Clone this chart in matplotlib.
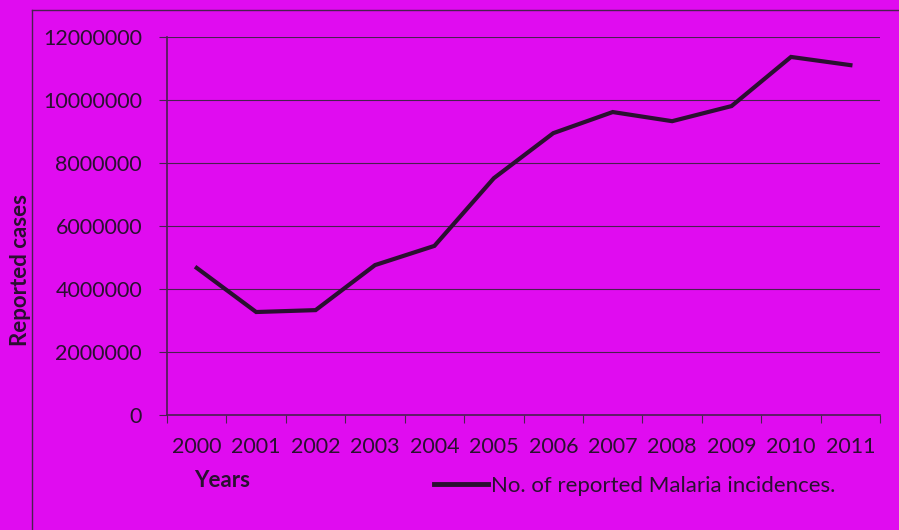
import numpy as np
import matplotlib
matplotlib.use("Agg")
import matplotlib.pyplot as plt
from matplotlib.lines import Line2D

# Data
years = ["2000", "2001", "2002", "2003", "2004", "2005",
         "2006", "2007", "2008", "2009", "2010", "2011"]
cases = [4670000, 3270000, 3330000, 4760000, 5370000, 7520000,
         8950000, 9620000, 9330000, 9810000, 11370000, 11110000]
yticks = [0, 2000000, 4000000, 6000000, 8000000, 10000000, 12000000]

bg = "#E00CF0"
ink = "#2a1030"

plt.rcParams["font.family"] = ["Lato", "DejaVu Sans"]

fig = plt.figure(figsize=(8.99, 5.30), dpi=100, facecolor=bg)
ax = fig.add_axes([0.1858, 0.217, 0.7932, 0.713], facecolor=bg)

x = np.arange(len(years))
ax.plot(x, cases, color=ink, lw=3, solid_joinstyle="miter",
        label="No. of reported Malaria incidences.")

ax.set_xlim(-0.5, len(years) - 0.5)
ax.set_ylim(0, 12000000)
ax.set_yticks(yticks)
ax.set_yticklabels([str(v) for v in yticks])
ax.yaxis.grid(True, color="#4a2050", lw=0.8)
ax.set_axisbelow(True)

# category ticks at boundaries, labels centered
ax.set_xticks(np.arange(-0.5, len(years)))
ax.set_xticklabels([])
ax.set_xticks(x, minor=True)
ax.set_xticklabels(years, minor=True)
ax.tick_params(axis="x", which="minor", length=0, pad=16, labelsize=15.5, colors=ink)
ax.tick_params(axis="x", which="major", length=6, color="#4a2050")
ax.tick_params(axis="y", length=6, pad=12, labelsize=15.5, colors=ink, color="#4a2050")

for s in ["top", "right"]:
    ax.spines[s].set_visible(False)
for s in ["left", "bottom"]:
    ax.spines[s].set_color("#4a2050")
    ax.spines[s].set_linewidth(1.2)

fig.text(0.023, 0.49, "Reported cases", rotation=90, fontsize=16,
         fontweight="bold", color=ink, ha="center", va="center")
fig.text(0.216, 0.093, "Years", fontsize=16, fontweight="bold",
         color=ink, ha="left", va="center")

leg = ax.legend(loc="center left", bbox_to_anchor=(0.461, 0.083),
                bbox_transform=fig.transFigure, frameon=False, fontsize=16,
                handlelength=2.4, handletextpad=0.15, labelcolor=ink)
for h in leg.get_lines():
    h.set_linewidth(3.5)

# outer chart frame
fig.add_artist(Line2D([0.0356, 0.0356], [0, 0.981], color="#4a2050", lw=1))
fig.add_artist(Line2D([0.0356, 1.0], [0.981, 0.981], color="#4a2050", lw=1))

fig.savefig("out.png", dpi=100, facecolor=bg)
